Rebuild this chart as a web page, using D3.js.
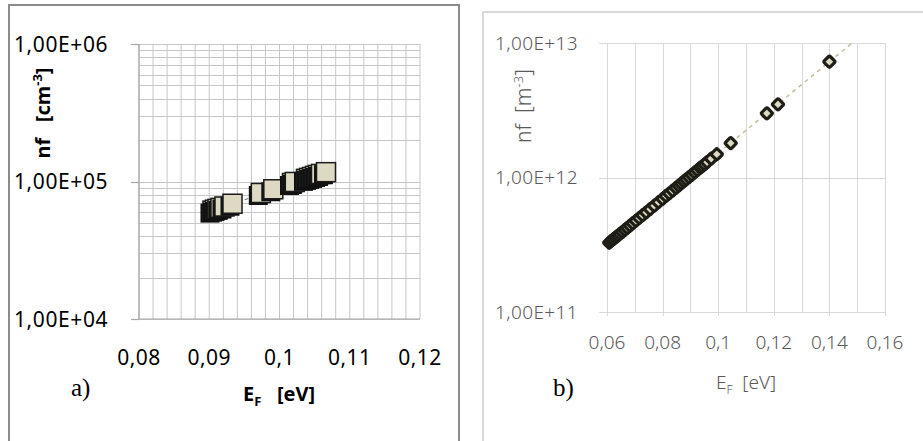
<!DOCTYPE html>
<html><head><meta charset="utf-8">
<script src="https://cdn.jsdelivr.net/npm/d3@7/dist/d3.min.js"></script>
<style>
html,body{margin:0;padding:0;background:#fff;}
svg{display:block;}
</style>
</head><body>
<svg id="c" width="923" height="441"></svg>
<script>
// ---- Data (a): nf [cm^-3] vs E_F [eV]
const leftEF = [0.09046,0.09082,0.09117,0.09160,0.09217,0.09331,0.09734,0.09912,0.10178,0.10218,0.10377,0.10420,0.10463,0.10505,0.10548,0.10591,0.10662];
const leftNf = [6.14e4,6.24e4,6.32e4,6.43e4,6.58e4,6.89e4,8.25e4,8.78e4,9.75e4,9.92e4,1.045e5,1.062e5,1.079e5,1.098e5,1.116e5,1.135e5,1.169e5];
const leftTrendEF = [0.0903, 0.1068];
const leftTrendNf = [6.1e4, 1.18e5];
const leftXTicks = [0.08,0.09,0.10,0.11,0.12];
const leftYTicks = [1e4,1e5,1e6];

// ---- Data (b): nf [m^-3] vs E_F [eV]
const rightEF = [0.0608,0.0615,0.0622,0.0630,0.0638,0.0646,0.0655,0.0664,0.0673,0.0683,0.0693,0.0704,0.0716,0.0728,0.0741,0.0755,0.0770,0.0785,0.0800,0.0812,0.0824,0.0836,0.0848,0.0858,0.0867,0.0876,0.0885,0.0895,0.0905,0.0915,0.0925,0.0935,0.0942,0.0951,0.0960,0.0975,0.0995,0.1045,0.1175,0.1215,0.1400];
const rightNf = [3.27e11,3.37e11,3.46e11,3.57e11,3.68e11,3.80e11,3.93e11,4.08e11,4.22e11,4.39e11,4.57e11,4.77e11,5.00e11,5.24e11,5.51e11,5.82e11,6.17e11,6.55e11,6.94e11,7.28e11,7.62e11,7.99e11,8.38e11,8.71e11,9.02e11,9.35e11,9.68e11,1.007e12,1.047e12,1.089e12,1.132e12,1.178e12,1.21e12,1.25e12,1.30e12,1.38e12,1.49e12,1.8e12,3.0e12,3.5e12,7.26e12];
const rightTrendEF = [0.06, 0.1482];
const rightTrendNf = [3.17e11, 1e13];
const rightXTicks = [0.06,0.08,0.10,0.12,0.14,0.16];
const rightYTicks = [1e11,1e12,1e13];

const loc = d3.formatLocale({decimal:",", thousands:".", grouping:[3], currency:["",""]});
const fx = loc.format("~g");
const fy = d => {
  const e = Math.floor(Math.log10(d) + 1e-9);
  const m = d / Math.pow(10, e);
  return m.toFixed(2).replace(".", ",") + "E+" + String(e).padStart(2, "0");
};

const svg = d3.select("#c");
const FONT = "'Noto Sans', 'Open Sans', sans-serif";

// ================= Panel (a) =================
svg.append("rect").attr("x",9).attr("y",5).attr("width",450).attr("height",460)
  .attr("fill","none").attr("stroke","#8c8c8c").attr("stroke-width",2);

const xL = d3.scaleLinear().domain([0.08,0.12]).range([139,420]);
const yL = d3.scaleLog().domain([1e4,1e6]).range([319,44]);
const gA = svg.append("g");

gA.selectAll("line.vg").data(xL.ticks(20)).join("line")
  .attr("x1",d=>xL(d)).attr("x2",d=>xL(d)).attr("y1",yL(1e6)).attr("y2",yL(1e4))
  .attr("stroke","#c6c6c6").attr("stroke-width",1);
gA.selectAll("line.hg").data(yL.ticks()).join("line")
  .attr("x1",xL(0.08)).attr("x2",xL(0.12)).attr("y1",d=>Math.round(yL(d))+0.5).attr("y2",d=>Math.round(yL(d))+0.5)
  .attr("stroke","#c6c6c6").attr("stroke-width",1);
gA.append("line").attr("x1",xL(0.08)).attr("x2",xL(0.08)).attr("y1",yL(1e6)).attr("y2",yL(1e4))
  .attr("stroke","#a6a6a6").attr("stroke-width",1.2);
gA.selectAll("line.yt").data(leftYTicks).join("line")
  .attr("x1",xL(0.08)-8).attr("x2",xL(0.08)).attr("y1",d=>Math.round(yL(d))+0.5).attr("y2",d=>Math.round(yL(d))+0.5)
  .attr("stroke","#a6a6a6").attr("stroke-width",1.2);
gA.append("line").attr("x1",xL(0.08)).attr("x2",xL(0.12)).attr("y1",yL(1e4)).attr("y2",yL(1e4))
  .attr("stroke","#a6a6a6").attr("stroke-width",1.2);

gA.selectAll("text.yl").data(leftYTicks).join("text")
  .attr("x",14).attr("y",d=>yL(d)).attr("dy","0.36em")
  .attr("font-family",FONT).attr("font-size",21).attr("letter-spacing","0.6px").attr("fill","#000")
  .text(fy);
gA.selectAll("text.xl").data(leftXTicks).join("text")
  .attr("x",d=>xL(d)).attr("y",357).attr("dy","0.36em").attr("text-anchor","middle")
  .attr("font-family",FONT).attr("font-size",21).attr("letter-spacing","0.4px").attr("fill","#000")
  .text(fx);

gA.append("line")
  .attr("x1",xL(leftTrendEF[0])).attr("y1",yL(leftTrendNf[0]))
  .attr("x2",xL(leftTrendEF[1])).attr("y2",yL(leftTrendNf[1]))
  .attr("stroke","#808080").attr("stroke-width",1.2).attr("stroke-dasharray","4,3");

const S = 19;
const mA = gA.append("g");
leftEF.forEach((e,i)=>{
  const cx = xL(e), cy = yL(leftNf[i]);
  mA.append("rect").attr("x",cx-S/2-2.5).attr("y",cy-S/2+2.5).attr("width",S).attr("height",S).attr("fill","#111");
  mA.append("rect").attr("x",cx-S/2).attr("y",cy-S/2).attr("width",S).attr("height",S)
    .attr("fill","#ddd9c3").attr("stroke","#1a1a1a").attr("stroke-width",1.5);
});

const tA = gA.append("text").attr("x",279).attr("y",401).attr("text-anchor","middle")
  .attr("font-family",FONT).attr("font-size",20).attr("font-weight","bold").attr("fill","#000");
tA.append("tspan").text("E");
tA.append("tspan").attr("font-size",13).attr("dy",5).text("F");
tA.append("tspan").attr("dy",-5).text("\u00a0\u00a0\u00a0[eV]");

const tAy = gA.append("text").attr("transform","translate(50,113) rotate(-90)").attr("text-anchor","middle")
  .attr("font-family",FONT).attr("font-size",20).attr("font-weight","bold").attr("fill","#000");
tAy.append("tspan").text("nf\u00a0\u00a0\u00a0[cm");
tAy.append("tspan").attr("font-size",13).attr("dy",-8).text("-3");
tAy.append("tspan").attr("dy",8).text("]");

svg.append("text").attr("x",71).attr("y",396).attr("font-family","'Liberation Serif', 'Times New Roman', serif")
  .attr("font-size",25).attr("fill","#000").text("a)");

// ================= Panel (b) =================
svg.append("rect").attr("x",483).attr("y",12).attr("width",460).attr("height",460)
  .attr("fill","none").attr("stroke","#d9d9d9").attr("stroke-width",2);

const xR = d3.scaleLinear().domain([0.06,0.16]).range([607,885]);
const yR = d3.scaleLog().domain([1e11,1e13]).range([312,43]);
const gB = svg.append("g");

gB.selectAll("line.vg").data(xR.ticks(10)).join("line")
  .attr("x1",d=>Math.round(xR(d))+0.5).attr("x2",d=>Math.round(xR(d))+0.5).attr("y1",yR(1e13)).attr("y2",yR(1e11))
  .attr("stroke","#d9d9d9").attr("stroke-width",1);
gB.selectAll("line.hg").data(rightYTicks).join("line")
  .attr("x1",xR(0.06)).attr("x2",xR(0.16)).attr("y1",d=>Math.round(yR(d))+0.5).attr("y2",d=>Math.round(yR(d))+0.5)
  .attr("stroke","#d9d9d9").attr("stroke-width",1);
gB.selectAll("line.yt").data(rightYTicks).join("line")
  .attr("x1",xR(0.06)-8).attr("x2",xR(0.06)).attr("y1",d=>Math.round(yR(d))+0.5).attr("y2",d=>Math.round(yR(d))+0.5)
  .attr("stroke","#d9d9d9").attr("stroke-width",1);
gB.selectAll("line.xt").data(rightXTicks).join("line")
  .attr("x1",d=>Math.round(xR(d))+0.5).attr("x2",d=>Math.round(xR(d))+0.5).attr("y1",yR(1e11)).attr("y2",yR(1e11)+4)
  .attr("stroke","#d9d9d9").attr("stroke-width",1);

gB.selectAll("text.yl").data(rightYTicks).join("text")
  .attr("x",495).attr("y",d=>yR(d)).attr("dy","0.36em")
  .attr("font-family",FONT).attr("font-size",19).attr("font-weight",300).attr("letter-spacing","0.4px").attr("fill","#595959")
  .text(fy);
gB.selectAll("text.xl").data(rightXTicks).join("text")
  .attr("x",d=>xR(d)).attr("y",342).attr("dy","0.36em").attr("text-anchor","middle")
  .attr("font-family",FONT).attr("font-size",19).attr("font-weight",300).attr("fill","#595959")
  .text(fx);

gB.append("line")
  .attr("x1",xR(rightTrendEF[0])).attr("y1",yR(rightTrendNf[0]))
  .attr("x2",xR(rightTrendEF[1])).attr("y2",yR(rightTrendNf[1]))
  .attr("stroke","#c4bd97").attr("stroke-width",1.5).attr("stroke-dasharray","4,4");

const D = 8.5;
gB.append("g").selectAll("rect").data(rightEF).join("rect")
  .attr("x",-D/2).attr("y",-D/2).attr("width",D).attr("height",D).attr("rx",1.5)
  .attr("transform",(d,i)=>`translate(${xR(d)},${yR(rightNf[i])}) rotate(45)`)
  .attr("fill","#ddd9c3").attr("stroke","#1e1e16").attr("stroke-width",3.2);

const tB = gB.append("text").attr("x",746).attr("y",389).attr("text-anchor","middle")
  .attr("font-family",FONT).attr("font-size",19).attr("font-weight",300).attr("fill","#595959");
tB.append("tspan").text("E");
tB.append("tspan").attr("font-size",12).attr("dy",5).text("F");
tB.append("tspan").attr("dy",-5).text("\u00a0\u00a0[eV]");

const tBy = gB.append("text").attr("transform","translate(531,106) rotate(-90)").attr("text-anchor","middle")
  .attr("font-family",FONT).attr("font-size",21).attr("font-weight",300).attr("fill","#595959");
tBy.append("tspan").text("nf\u00a0\u00a0[m");
tBy.append("tspan").attr("font-size",13).attr("dy",-8).text("-3");
tBy.append("tspan").attr("dy",8).text("]");

svg.append("text").attr("x",553).attr("y",396).attr("font-family","'Liberation Serif', 'Times New Roman', serif")
  .attr("font-size",25).attr("fill","#000").text("b)");
</script>
</body></html>
